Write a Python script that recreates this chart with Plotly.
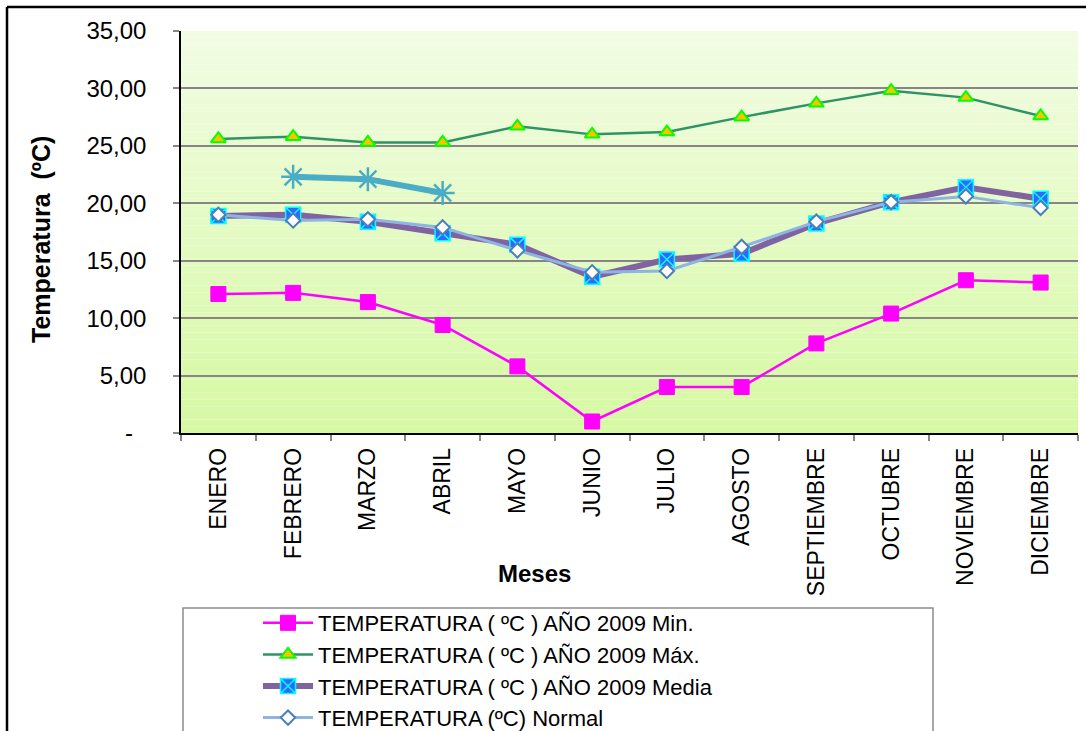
import plotly.graph_objects as go

# Monthly temperatures (ºC)
meses = ["ENERO", "FEBRERO", "MARZO", "ABRIL", "MAYO", "JUNIO", "JULIO",
         "AGOSTO", "SEPTIEMBRE", "OCTUBRE", "NOVIEMBRE", "DICIEMBRE"]
t_min = [12.1, 12.2, 11.4, 9.4, 5.8, 1.0, 4.0, 4.0, 7.8, 10.4, 13.3, 13.1]
t_max = [25.6, 25.8, 25.3, 25.3, 26.7, 26.0, 26.2, 27.5, 28.7, 29.8, 29.2, 27.6]
t_media = [18.9, 19.0, 18.4, 17.4, 16.4, 13.6, 15.1, 15.6, 18.25, 20.1, 21.4, 20.4]
t_normal = [19.0, 18.5, 18.6, 17.9, 15.9, 14.0, 14.1, 16.2, 18.4, 20.1, 20.6, 19.6]
t_2010 = [None, 22.3, 22.1, 20.9, None, None, None, None, None, None, None, None]

y_ticks = [0, 5, 10, 15, 20, 25, 30, 35]
y_ticktext = ["-\u00a0\u00a0", "5,00", "10,00", "15,00", "20,00", "25,00", "30,00", "35,00"]

W, H = 1086, 731
L, R, T, B = 181, 8, 31, 298
pw, ph = W - L - R, H - T - B


def px_x(p):
    return (p - L) / pw


def px_y(p):
    return (H - B - p) / ph


fig = go.Figure()

fig.add_trace(go.Scatter(
    x=meses, y=t_min, name="TEMPERATURA ( ºC ) AÑO 2009 Min.",
    mode="lines+markers",
    line=dict(color="#FF00FF", width=2.5),
    marker=dict(symbol="square", size=15, color="#FF00FF",
                line=dict(color="#FF00FF", width=1)),
))
fig.add_trace(go.Scatter(
    x=meses, y=t_max, name="TEMPERATURA ( ºC ) AÑO 2009 Máx.",
    mode="lines+markers",
    line=dict(color="#2E9465", width=2.5),
    marker=dict(symbol="triangle-up", size=13, color="#FFC000",
                line=dict(color="#00FF00", width=2)),
))
fig.add_trace(go.Scatter(
    x=meses, y=t_media, name="TEMPERATURA ( ºC ) AÑO 2009 Media",
    mode="lines+markers",
    line=dict(color="#8064A2", width=6),
    marker=dict(symbol="square-x", size=15, color="#3366FF",
                line=dict(color="#00FFFF", width=1.5)),
))
fig.add_trace(go.Scatter(
    x=meses, y=t_normal, name="TEMPERATURA (ºC) Normal",
    mode="lines+markers",
    line=dict(color="#8DB4E2", width=3),
    marker=dict(symbol="diamond", size=11, color="#FFFFFF",
                line=dict(color="#4A7EBB", width=2)),
))
fig.add_trace(go.Scatter(
    x=meses, y=t_2010, name="TEMPERATURA ( ºC ) AÑO 2010 Media",
    mode="lines+markers", showlegend=False,
    line=dict(color="#4BACC6", width=6),
    marker=dict(symbol="asterisk-open", size=20, color="#4BACC6",
                line=dict(color="#4BACC6", width=2.5)),
))

# Vertical gradient behind the plot area
top_c = (0xF2, 0xFC, 0xE4)
bot_c = (0xD6, 0xF9, 0xA3)
n = 60
shapes = []
for i in range(n):
    f = (i + 0.5) / n
    c = tuple(round(bot_c[k] + (top_c[k] - bot_c[k]) * f) for k in range(3))
    shapes.append(dict(
        type="rect", xref="x domain", yref="y domain",
        x0=0, x1=1, y0=i / n, y1=(i + 1) / n,
        fillcolor="rgb(%d,%d,%d)" % c, line=dict(width=0), layer="below",
    ))

# Chart frame (top and left edges)
shapes.append(dict(type="line", xref="paper", yref="paper",
                   x0=px_x(7), x1=px_x(W + 10), y0=px_y(7), y1=px_y(7),
                   line=dict(color="#000000", width=2.5)))
shapes.append(dict(type="line", xref="paper", yref="paper",
                   x0=px_x(7), x1=px_x(7), y0=px_y(7), y1=px_y(H + 10),
                   line=dict(color="#000000", width=2.5)))
# Legend box
shapes.append(dict(type="rect", xref="paper", yref="paper",
                   x0=px_x(183), x1=px_x(933), y0=px_y(608), y1=px_y(H + 20),
                   fillcolor="#FFFFFF", line=dict(color="#8C8C8C", width=1.5),
                   layer="below"))

annotations = [
    dict(text="<b>Meses</b>", xref="paper", yref="paper",
         x=px_x(534), y=px_y(573), showarrow=False,
         font=dict(size=24, color="#000000"), xanchor="center", yanchor="middle"),
    dict(text="<b>Temperatura  (ºC)</b>", xref="paper", yref="paper",
         x=px_x(41), y=px_y(240), showarrow=False, textangle=-90,
         font=dict(size=25, color="#000000"), xanchor="center", yanchor="middle"),
]

fig.update_layout(
    width=W, height=H,
    margin=dict(l=L, r=R, t=T, b=B, autoexpand=False),
    paper_bgcolor="#FFFFFF",
    plot_bgcolor="rgba(0,0,0,0)",
    font=dict(family="Liberation Sans, Arial, sans-serif", color="#000000"),
    shapes=shapes,
    annotations=annotations,
    showlegend=True,
    legend=dict(
        x=px_x(258), y=px_y(602), xanchor="left", yanchor="top",
        bgcolor="rgba(0,0,0,0)", borderwidth=0,
        font=dict(size=22, color="#000000"),
        itemwidth=50, tracegroupgap=0,
    ),
)

fig.update_xaxes(
    type="category", range=[-0.5, 11.5],
    showgrid=False, showline=True, linecolor="#000000", linewidth=1.5,
    ticks="outside", tickson="boundaries", ticklen=6, tickcolor="#868686", tickwidth=1.5,
    tickangle=-90, tickfont=dict(size=23, color="#000000"),
    ticklabelstandoff=4,
)
fig.update_yaxes(
    range=[0, 35], tickmode="array", tickvals=y_ticks, ticktext=y_ticktext,
    showgrid=True, gridcolor="#868686", gridwidth=2,
    zeroline=False, showline=True, linecolor="#000000", linewidth=1.5,
    ticks="outside", ticklen=6, tickcolor="#868686", tickwidth=2,
    tickfont=dict(size=24, color="#000000"),
    ticklabelstandoff=22,
)

fig.write_html("out.html")
